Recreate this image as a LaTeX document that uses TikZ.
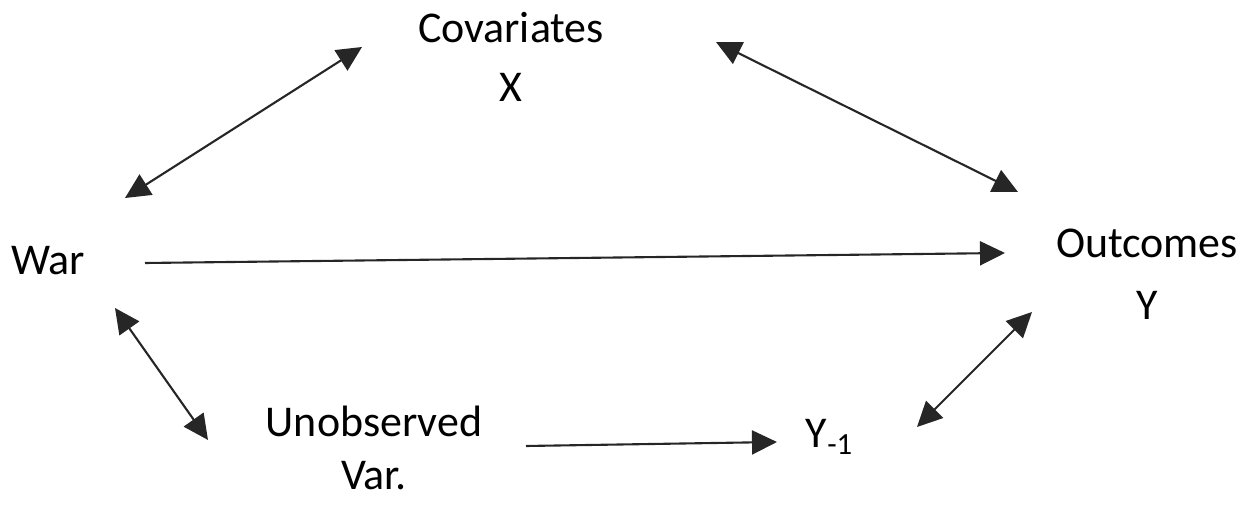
\documentclass[tikz,border=0pt]{standalone}
\usepackage{fontspec}
\setmainfont{Carlito}
\usepackage{tikz}
\usetikzlibrary{arrows.meta}

\begin{document}
\begin{tikzpicture}[
    varNode/.style={
        anchor=base, align=center, inner sep=0pt,
        font=\fontsize{12.5}{16.8}\selectfont, text=black
    },
    flowArrow/.style={
        -{Triangle[length=0.25cm, width=0.24cm]}, line width=0.6pt, draw=black!85
    },
    biFlowArrow/.style={
        {Triangle[length=0.25cm, width=0.24cm]}-{Triangle[length=0.25cm, width=0.24cm]},
        line width=0.6pt, draw=black!85
    }
]
    \useasboundingbox (0, 0) rectangle (12.52, 5.05);

    % Variables (base = baseline of last line)
    \node[varNode] (cov) at (5.11, 4.03) {Covariates\\X};
    \node[varNode] (war) at (0.48, 2.30) {War};
    \node[varNode] (out) at (11.47, 1.85) {Outcomes\\[1pt]Y};
    \node[varNode] (unobs) at (3.74, 0.15) {Unobserved\\[-1.5pt]Var.};
    \node[varNode] (ylag) at (8.30, 0.57) {Y\textsubscript{-1}};

    % Arrow ends
    \coordinate (warTop) at (1.25, 3.07);
    \coordinate (covLeft) at (3.62, 4.58);
    \coordinate (covRight) at (7.16, 4.63);
    \coordinate (outTop) at (10.18, 3.13);
    \coordinate (warRight) at (1.45, 2.42);
    \coordinate (outLeft) at (10.05, 2.52);
    \coordinate (warBottom) at (1.15, 1.97);
    \coordinate (unobsTop) at (2.08, 0.65);
    \coordinate (unobsRight) at (5.26, 0.59);
    \coordinate (ylagLeft) at (7.77, 0.63);
    \coordinate (outBottom) at (10.32, 1.93);
    \coordinate (ylagRight) at (9.17, 0.78);

    % Connectors
    \draw[biFlowArrow] (warTop) -- (covLeft);
    \draw[biFlowArrow] (covRight) -- (outTop);
    \draw[flowArrow] (warRight) -- (outLeft);
    \draw[biFlowArrow] (warBottom) -- (unobsTop);
    \draw[flowArrow] (unobsRight) -- (ylagLeft);
    \draw[biFlowArrow] (ylagRight) -- (outBottom);

\end{tikzpicture}
\end{document}
